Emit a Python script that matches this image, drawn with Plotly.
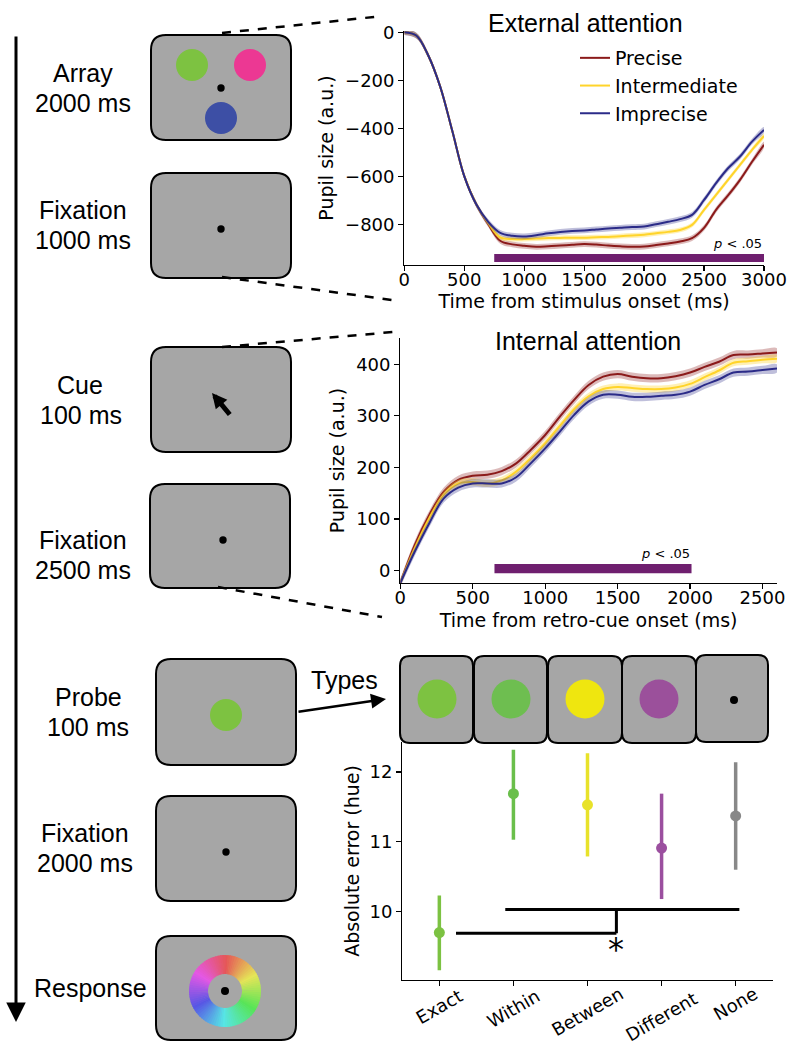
import colorsys
import math
import plotly.graph_objects as go

W, H = 800, 1061
def px(x): return x / W
def py(y): return 1 - y / H

# ---------------- data ----------------
t_ext = list(range(0, 3001, 100))
ext_precise = [0, -14, -97, -228, -411, -600, -717, -800, -869, -884,
               -890, -894, -892, -889, -886, -883, -885, -889, -892, -894,
               -893, -887, -880, -872, -858, -815, -740, -680, -615, -540, -469]
ext_intermediate = [0, -14, -97, -228, -411, -600, -717, -795, -855, -862,
                    -862, -860, -858, -857, -856, -856, -854, -853, -850, -847,
                    -844, -838, -832, -824, -803, -740, -678, -615, -553, -490, -432]
ext_imprecise = [0, -14, -97, -228, -411, -600, -717, -790, -836, -848,
                 -851, -846, -838, -832, -828, -826, -822, -818, -815, -812,
                 -810, -800, -790, -779, -761, -699, -629, -567, -518, -456, -407]

t_int = list(range(0, 2601, 100))
int_precise = [-24, 50, 108, 153, 176, 184, 186, 193, 208, 234, 263, 298, 331, 360,
               376, 381, 376, 373, 373, 377, 384, 395, 405, 418, 419, 421, 423]
int_intermediate = [-24, 43, 101, 147, 169, 172, 169, 175, 192, 218, 247, 280, 313, 338,
                    352, 356, 354, 352, 352, 355, 362, 375, 388, 403, 406, 409, 411]
int_imprecise = [-24, 37, 92, 140, 161, 169, 169, 169, 181, 208, 237, 269, 302, 328,
                 341, 341, 337, 337, 339, 341, 347, 360, 371, 384, 386, 389, 392]

conditions = ["Precise", "Intermediate", "Imprecise"]
cond_colors = ["#8b1a1a", "#ffd42a", "#2b2b88"]
band_colors = ["rgba(139,26,26,0.30)", "rgba(255,212,42,0.35)", "rgba(43,43,136,0.30)"]
sem_ext = [12, 10, 12]
sem_int = [8, 7, 8]
sig_ext = [750, 3000]
sig_int = [650, 2010]

categories = ["Exact", "Within", "Between", "Different", "None"]
err_mean = [9.70, 11.69, 11.53, 10.91, 11.37]
err_upper = [10.23, 12.32, 12.27, 11.69, 12.14]
err_lower = [9.16, 11.03, 10.79, 10.18, 10.60]
cat_colors = ["#7cc242", "#6abf4b", "#e8e22a", "#9b4f9f", "#888888"]

SANS = "Liberation Sans, Arial, sans-serif"
DJ = "DejaVu Sans"
PURPLE = "#6f1f6f"
GRAY = "#a6a6a6"

fig = go.Figure()

# ---------------- pupil traces ----------------
ext_series = [ext_precise, ext_intermediate, ext_imprecise]
int_series = [int_precise, int_intermediate, int_imprecise]
for panel, (tt, series, sems, xa, ya) in enumerate([
        (t_ext, ext_series, sem_ext, "x", "y"),
        (t_int, int_series, sem_int, "x2", "y2")]):
    for i, name in enumerate(conditions):
        ys = series[i]
        up = [v + sems[i] for v in ys]
        lo = [v - sems[i] for v in ys]
        fig.add_trace(go.Scatter(
            x=tt + tt[::-1], y=up + lo[::-1], fill="toself",
            fillcolor=band_colors[i], line=dict(width=0, shape="spline"),
            mode="lines", hoverinfo="skip", showlegend=False,
            xaxis=xa, yaxis=ya))
        fig.add_trace(go.Scatter(
            x=tt, y=ys, mode="lines", name=name,
            line=dict(color=cond_colors[i], width=2, shape="spline"),
            showlegend=(panel == 0), legendgroup=name,
            xaxis=xa, yaxis=ya))

# ---------------- error plot ----------------
for i, cat in enumerate(categories):
    fig.add_trace(go.Scatter(
        x=[i], y=[err_mean[i]], mode="markers",
        marker=dict(color=cat_colors[i], size=11),
        error_y=dict(type="data", symmetric=False,
                     array=[err_upper[i] - err_mean[i]],
                     arrayminus=[err_mean[i] - err_lower[i]],
                     color=cat_colors[i], thickness=3.5, width=0),
        showlegend=False, xaxis="x3", yaxis="y3"))

shapes = []
annotations = []

# significance bars
shapes.append(dict(type="rect", xref="x", yref="y", x0=sig_ext[0], x1=sig_ext[1],
                   y0=-958, y1=-924, fillcolor=PURPLE, line=dict(width=0), layer="below"))
shapes.append(dict(type="rect", xref="x2", yref="y2", x0=sig_int[0], x1=sig_int[1],
                   y0=-5, y1=13, fillcolor=PURPLE, line=dict(width=0), layer="below"))
annotations.append(dict(x=sig_ext[1], y=-922, xref="x", yref="y", xanchor="right",
                        yanchor="bottom", text="<i>p</i> &lt; .05", showarrow=False,
                        font=dict(family=DJ, size=13, color="black")))
annotations.append(dict(x=sig_int[1], y=15, xref="x2", yref="y2", xanchor="right",
                        yanchor="bottom", text="<i>p</i> &lt; .05", showarrow=False,
                        font=dict(family=DJ, size=13, color="black")))

# significance bracket in error plot
for (x0, y0, x1, y1) in [(0.225, 9.69, 2.39, 9.69), (2.39, 9.69, 2.39, 10.03),
                         (0.89, 10.03, 4.05, 10.03)]:
    shapes.append(dict(type="line", xref="x3", yref="y3", x0=x0, y0=y0, x1=x1, y1=y1,
                       line=dict(color="black", width=3)))
annotations.append(dict(x=2.39, y=9.46, xref="x3", yref="y3", text="*", showarrow=False,
                        xanchor="center", yanchor="middle",
                        font=dict(family=DJ, size=32, color="black")))

# category labels (rotated 30 deg, rotated box top aligned below the axis)
for i, cat in enumerate(categories):
    est_w = 10.5 * len(cat)
    extent = est_w * 0.5 + 21 * 0.866
    annotations.append(dict(x=i, y=py(984 + extent / 2), xref="x3", yref="paper", text=cat,
                            textangle=-30, xanchor="center", yanchor="middle",
                            showarrow=False, font=dict(family=DJ, size=18, color="black")))

# panel titles
annotations.append(dict(x=px(585), y=py(23), xref="paper", yref="paper",
                        xanchor="center", yanchor="middle",
                        text="External attention", showarrow=False,
                        font=dict(family=SANS, size=25, color="black")))
annotations.append(dict(x=px(588), y=py(341), xref="paper", yref="paper",
                        xanchor="center", yanchor="middle",
                        text="Internal attention", showarrow=False,
                        font=dict(family=SANS, size=25, color="black")))

# ---------------- schematic ----------------
def P(x, y):
    return f"{px(x):.5f},{py(y):.5f}"

def rrect(x0, y0, x1, y1, r, lw=2):
    path = (f"M{P(x0 + r, y0)} L{P(x1 - r, y0)} Q{P(x1, y0)} {P(x1, y0 + r)} "
            f"L{P(x1, y1 - r)} Q{P(x1, y1)} {P(x1 - r, y1)} L{P(x0 + r, y1)} "
            f"Q{P(x0, y1)} {P(x0, y1 - r)} L{P(x0, y0 + r)} Q{P(x0, y0)} {P(x0 + r, y0)} Z")
    return dict(type="path", xref="paper", yref="paper", path=path,
                fillcolor=GRAY, line=dict(color="black", width=lw))

def circ(cx, cy, r, color):
    return dict(type="circle", xref="paper", yref="paper",
                x0=px(cx - r), x1=px(cx + r), y0=py(cy + r), y1=py(cy - r),
                fillcolor=color, line=dict(width=0))

left_boxes = [(151, 35, 291, 140), (151, 173, 291, 278), (151, 347, 291, 452),
              (150, 484, 290, 588), (156, 659, 296, 765), (156, 796, 296, 901),
              (156, 936, 296, 1040)]
for b in left_boxes:
    shapes.append(rrect(*b, r=15))

shapes.append(circ(192, 65, 16, "#7dc241"))
shapes.append(circ(250, 65, 16, "#ec3893"))
shapes.append(circ(221, 118, 16, "#3d4fa5"))
shapes.append(circ(221, 88, 3.7, "black"))
shapes.append(circ(221, 229, 3.7, "black"))
shapes.append(circ(223, 540, 3.7, "black"))
shapes.append(circ(226, 715, 16, "#7dc241"))
shapes.append(circ(226, 852, 3.7, "black"))

# colour wheel
cx, cy, ro, ri = 225, 991, 36, 17
N = 90
for k in range(N):
    a0 = 2 * math.pi * k / N
    a1 = 2 * math.pi * (k + 1.3) / N
    r_, g_, b_ = colorsys.hsv_to_rgb(k / N, 0.62, 0.9)
    col = f"rgb({int(r_*255)},{int(g_*255)},{int(b_*255)})"
    pts = [(cx + ro * math.sin(a0), cy - ro * math.cos(a0)),
           (cx + ro * math.sin(a1), cy - ro * math.cos(a1)),
           (cx + ri * math.sin(a1), cy - ri * math.cos(a1)),
           (cx + ri * math.sin(a0), cy - ri * math.cos(a0))]
    path = "M" + " L".join(P(x, y) for x, y in pts) + " Z"
    shapes.append(dict(type="path", xref="paper", yref="paper", path=path,
                       fillcolor=col, line=dict(width=0)))
shapes.append(circ(225, 991, 4, "black"))

# type boxes
type_boxes = [(400, 656, 473, 743), (474, 656, 547, 743), (548, 656, 622, 743),
              (622, 656, 696, 743), (696, 655, 768, 742)]
for b in type_boxes:
    shapes.append(rrect(*b, r=10))
for cxx, col in zip([437, 511, 585, 659], ["#7dc241", "#6ebe50", "#efe60f", "#9b509b"]):
    shapes.append(circ(cxx, 699, 19.5, col))
shapes.append(circ(734, 700, 4, "black"))

# dashed zoom lines
for (x0, y0, x1, y1) in [(222, 33, 383, 16), (222, 277, 392, 300),
                         (222, 347, 393, 332), (218, 587, 382, 617)]:
    shapes.append(dict(type="line", xref="paper", yref="paper",
                       x0=px(x0), y0=py(y0), x1=px(x1), y1=py(y1),
                       line=dict(color="black", width=2.5, dash="dash")))

# arrows
annotations.append(dict(x=px(16), y=py(1022), xref="paper", yref="paper", text="",
                        showarrow=True, ax=0, ay=-987, arrowhead=2, arrowsize=1.3,
                        arrowwidth=3, arrowcolor="black"))
annotations.append(dict(x=px(212), y=py(393), xref="paper", yref="paper", text="",
                        showarrow=True, ax=19, ay=23, arrowhead=2, arrowsize=0.6,
                        arrowwidth=5, arrowcolor="black"))
annotations.append(dict(x=px(386), y=py(699), xref="paper", yref="paper", text="",
                        showarrow=True, ax=-89, ay=13, arrowhead=2, arrowsize=1.2,
                        arrowwidth=2.5, arrowcolor="black"))

# schematic labels
labels = [("Array", 83, 73), ("2000 ms", 83, 103), ("Fixation", 83, 210), ("1000 ms", 83, 240),
          ("Cue", 80, 385), ("100 ms", 81, 415), ("Fixation", 83, 540), ("2500 ms", 83, 570),
          ("Probe", 88, 697), ("100 ms", 88, 727), ("Fixation", 85, 833), ("2000 ms", 85, 863),
          ("Response", 90, 988), ("Types", 344, 680)]
for txt, x, y in labels:
    annotations.append(dict(x=px(x), y=py(y), xref="paper", yref="paper", text=txt,
                            showarrow=False, xanchor="center", yanchor="middle",
                            font=dict(family=SANS, size=25, color="black")))

# ---------------- axes ----------------
axis_common = dict(showline=True, linecolor="black", linewidth=1.2, ticks="outside",
                   ticklen=5, tickcolor="black", tickwidth=1.2, showgrid=False,
                   zeroline=False, automargin=False,
                   tickfont=dict(family=DJ, size=18, color="black"),
                   title_font=dict(family=DJ, size=19, color="black"))

fig.update_layout(
    width=W, height=H, autosize=False,
    margin=dict(l=0, r=0, t=0, b=0, pad=0),
    paper_bgcolor="white", plot_bgcolor="rgba(0,0,0,0)",
    font=dict(family=DJ, color="black"),
    showlegend=True,
    legend=dict(x=px(575), y=py(39), xanchor="left", yanchor="top",
                bgcolor="rgba(0,0,0,0)", font=dict(family=DJ, size=19, color="black"),
                tracegroupgap=0),
    xaxis=dict(domain=[px(404.3), px(764)], range=[0, 3000], anchor="y",
               tickvals=[0, 500, 1000, 1500, 2000, 2500, 3000], ticklabelstandoff=-7,
               title=dict(text="Time from stimulus onset (ms)", standoff=5), **axis_common),
    yaxis=dict(domain=[py(265), py(31)], range=[-970, 5], anchor="x",
               tickvals=[0, -200, -400, -600, -800],
               ticktext=["0", "\u2212200", "\u2212400", "\u2212600", "\u2212800"],
               title=dict(text="Pupil size (a.u.)", standoff=6), **axis_common),
    xaxis2=dict(domain=[px(400.3), px(777)], range=[0, 2600], anchor="y2",
                tickvals=[0, 500, 1000, 1500, 2000, 2500], ticklabelstandoff=-7,
                title=dict(text="Time from retro-cue onset (ms)", standoff=7), **axis_common),
    yaxis2=dict(domain=[py(583), py(338)], range=[-24, 451], anchor="x2",
                tickvals=[0, 100, 200, 300, 400],
                title=dict(text="Pupil size (a.u.)", standoff=6), **axis_common),
    xaxis3=dict(domain=[px(402.3), px(772.7)], range=[-0.5, 4.5], anchor="y3",
                tickvals=[0, 1, 2, 3, 4], showticklabels=False, **axis_common),
    yaxis3=dict(domain=[py(980), py(742)], range=[9.02, 12.43], anchor="x3",
                tickvals=[10, 11, 12],
                title=dict(text="Absolute error (hue)", standoff=5), **axis_common),
    shapes=shapes,
    annotations=annotations,
)

fig.write_html("out.html",
               config={"displayModeBar": False, "staticPlot": True},
               post_script="document.body.style.margin='0';document.body.style.overflow='hidden';")
